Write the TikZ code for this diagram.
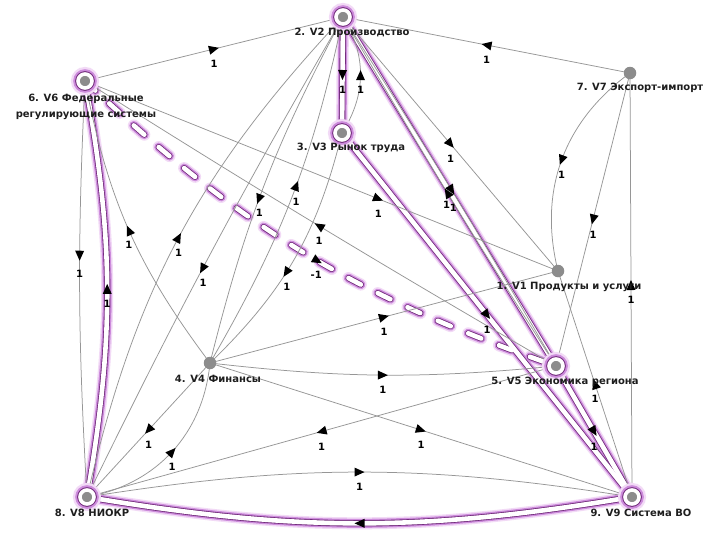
\documentclass[tikz,border=0pt]{standalone}
\usepackage{fontspec}
\setmainfont{DejaVu Sans}
\usetikzlibrary{arrows.meta,decorations.markings}
\pgfdeclarelayer{hl}
\pgfdeclarelayer{edges}
\pgfsetlayers{hl,edges,main}
\definecolor{edgegray}{RGB}{150,150,150}
\definecolor{nodegray}{RGB}{140,140,140}
\definecolor{hldark}{RGB}{115,45,125}
\definecolor{hlmid}{RGB}{205,140,220}
\definecolor{hllight}{RGB}{242,218,246}
\definecolor{txt}{RGB}{30,30,30}
\newcommand\hlall[1]{%
  \draw[#1] (V2.center) -- (V3.center);
  \draw[#1] (V2.center) -- (V5.center);
  \draw[#1] (V3.center) -- (V9.center);
  \draw[#1] (V5.center) -- (V9.center);
  \draw[#1] (V8.center) to[bend right=10] (V6.center);
  \draw[#1] (V9.center) to[bend left=9.5] (V8.center);
  \draw[#1,dash pattern=on 14pt off 19pt,line cap=round] (V6.center) to[bend right=12] (V5.center);}
\begin{document}
\begin{tikzpicture}[x=1pt,y=1pt,
  edge/.style={draw=edgegray,line width=0.75pt},
  arr/.style={postaction={decorate,decoration={markings,mark=at position #1 with {\fill[black] (5pt,0pt) -- (-5pt,4.5pt) -- (-5pt,-4.5pt) -- cycle;}}}},
  lbl/.style={font=\bfseries\fontsize{10}{10}\selectfont,text=black,inner sep=0pt,yshift=-15pt},
  dot/.style={circle,fill=nodegray,inner sep=0pt,minimum size=12.5pt},
  hldot/.style={circle,fill=nodegray,inner sep=0pt,minimum size=14pt,draw=white,line width=3.6pt,
     preaction={draw=hllight,line width=14pt},preaction={draw=hlmid,line width=9.5pt},preaction={draw=hldark,line width=5.6pt}},
  vlab/.style={font=\bfseries\fontsize{10}{16}\selectfont,text=txt,inner sep=0pt,align=center}]
\useasboundingbox (0,0) rectangle (722,-533);
% vertices
\node[dot]   (V1) at (558,-271) {};
\node[hldot] (V2) at (343,-17) {};
\node[hldot] (V3) at (342,-133) {};
\node[dot]   (V4) at (210,-363) {};
\node[hldot] (V5) at (556,-366) {};
\node[hldot] (V6) at (85,-81) {};
\node[dot]   (V7) at (630,-73) {};
\node[hldot] (V8) at (87,-497) {};
\node[hldot] (V9) at (632,-497) {};
% vertex labels
\node[vlab] (L1) at (569,-287) {1. V1 Продукты и услуги};
\node[vlab] (L2) at (352,-33) {2. V2 Производство};
\node[vlab] (L3) at (351,-148) {3. V3 Рынок труда};
\node[vlab] (L4) at (218,-379) {4. V4 Финансы};
\node[vlab] (L5) at (565,-382) {5. V5 Экономика региона};
\node[vlab] (L6) at (86,-107) {6. V6 Федеральные\\регулирующие системы};
\node[vlab] (L7) at (640,-88) {7. V7 Экспорт-импорт};
\node[vlab] (L8) at (92,-513) {8. V8 НИОКР};
\node[vlab] (L9) at (641,-513) {9. V9 Система ВО};
% highlighted paths
\begin{pgfonlayer}{hl}
\fill[white] (0,0) rectangle (722,-533);
\hlall{line width=12pt,hllight}
\hlall{line width=9pt,hlmid}
\hlall{line width=6.3pt,hldark}
\hlall{line width=4.6pt,white}
\end{pgfonlayer}
% edges
\begin{pgfonlayer}{edges}
\draw[edge,arr=0.5] (V6.center) -- node[lbl,pos=0.5]{1} (V2.center);
\draw[edge,arr=0.5] (V7.center) -- node[lbl,pos=0.5]{1} (V2.center);
\draw[edge,arr=0.5] (V3.center) to[bend right=32] node[lbl,pos=0.5]{1} (V2.center);
\draw[edge,arr=0.5] (V2.center) to[bend left=1.2] node[lbl,pos=0.5,xshift=-5pt]{1} (V5.center);
\draw[edge,arr=0.5] (V5.center) to[bend left=1.2] node[lbl,pos=0.5,xshift=6pt]{1} (V2.center);
\draw[edge,arr=0.5] (V2.center) -- node[lbl,pos=0.5]{1} (V1.center);
\draw[edge,arr=0.5] (V7.center) to[bend right=34] node[lbl,pos=0.5]{1} (V1.center);
\draw[edge,arr=0.5] (V7.center) -- node[lbl,pos=0.5]{1} (V5.center);
\draw[edge,arr=0.5] (V9.center) -- node[lbl,pos=0.5]{1} (V7.center);
\draw[edge,arr=0.5] (V9.center) -- node[lbl,pos=0.5]{1} (V1.center);
\draw[edge,arr=0.42] (V6.center) to[bend right=3] node[lbl,pos=0.42]{1} (V8.center);
\draw[edge,arr=0.5] (V4.center) to[bend left=13] node[lbl,pos=0.5]{1} (V6.center);
\draw[edge,arr=0.5] (V8.center) to[bend left=15] node[lbl,pos=0.5]{1} (V2.center);
\draw[edge,arr=0.53] (V2.center) to[bend right=2] node[lbl,pos=0.53]{1} (V8.center);
\draw[edge,arr=0.54] (V2.center) to[bend right=7] node[lbl,pos=0.54]{1} (V4.center);
\draw[edge,arr=0.53] (V4.center) to[bend right=9] node[lbl,pos=0.53]{1} (V2.center);
\draw[edge,arr=0.56] (V3.center) to[bend left=16] node[lbl,pos=0.56]{1} (V4.center);
\draw[edge,arr=0.5] (V5.center) to[bend left=1] node[lbl,pos=0.5]{1} (V6.center);
\draw[edge,arr=0.62] (V6.center) -- node[lbl,pos=0.62]{1} (V1.center);
\draw[edge,arr=0.5] (V4.center) -- node[lbl,pos=0.5]{1} (V1.center);
\draw[edge,arr=0.5] (V4.center) to[bend right=6] node[lbl,pos=0.5]{1} (V5.center);
\draw[edge,arr=0.5] (V4.center) -- node[lbl,pos=0.5]{1} (V9.center);
\draw[edge,arr=0.5] (V5.center) -- node[lbl,pos=0.5]{1} (V8.center);
\draw[edge,arr=0.5] (V8.center) to[bend left=9] node[lbl,pos=0.5]{1} (V9.center);
\draw[edge,arr=0.5] (V4.center) -- node[lbl,pos=0.5]{1} (V8.center);
\draw[edge,arr=0.5] (V8.center) to[bend right=37] node[lbl,pos=0.5]{1} (V4.center);
% arrows and labels of highlighted edges
\path[arr=0.5] (V2.center) -- node[lbl,pos=0.5]{1} (V3.center);
\path[arr=0.5] (V3.center) -- node[lbl,pos=0.5]{1} (V9.center);
\path[arr=0.5] (V5.center) -- node[lbl,pos=0.5]{1} (V9.center);
\path[arr=0.5] (V8.center) to[bend right=10] node[lbl,pos=0.5]{1} (V6.center);
\path[arr=0.5] (V9.center) to[bend left=9.5] (V8.center);
\path[arr=0.53] (V6.center) to[bend right=12] node[lbl,pos=0.53]{-1} (V5.center);
\end{pgfonlayer}
\end{tikzpicture}
\end{document}
